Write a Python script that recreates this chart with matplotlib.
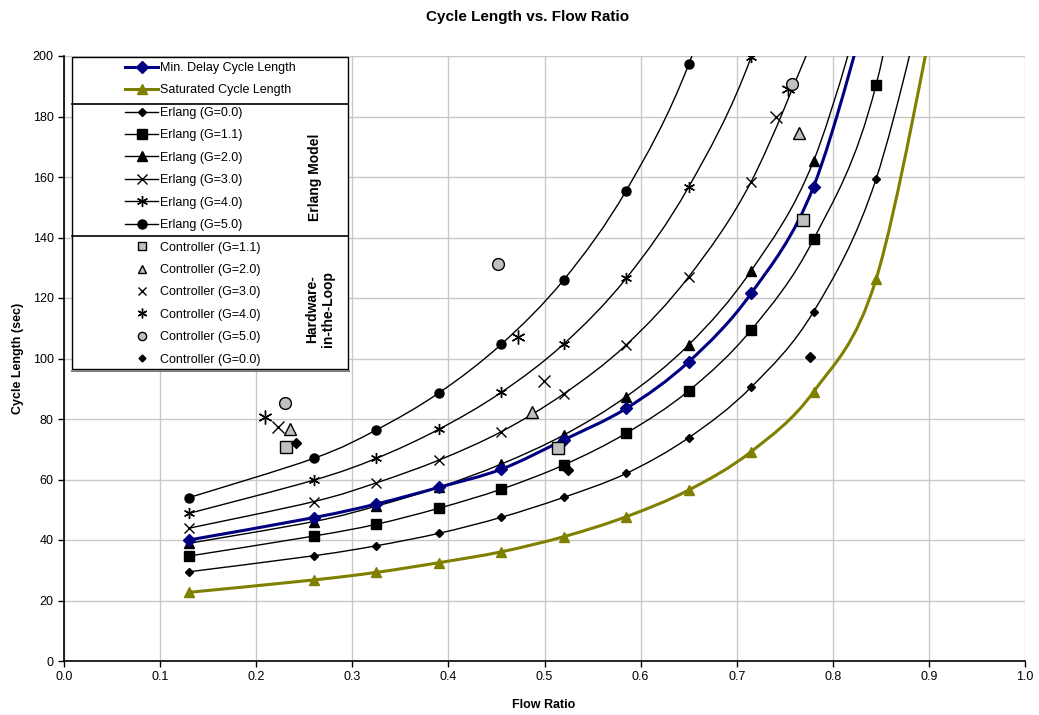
import matplotlib
matplotlib.use("Agg")
import matplotlib.pyplot as plt
import numpy as np
from matplotlib.path import Path
from matplotlib.patches import PathPatch, Rectangle
from matplotlib.lines import Line2D

plt.rcParams["font.family"] = ["Liberation Sans", "DejaVu Sans"]

# Flow ratios at which the curves were sampled
flow = [0.13, 0.26, 0.325, 0.39, 0.455, 0.52, 0.585, 0.65, 0.715, 0.78, 0.845, 0.91]

min_delay = [40.0, 47.4, 51.9, 57.4, 63.4, 73.1, 83.5, 98.9, 121.5, 156.8, 226.0]
saturated = [22.7, 26.8, 29.3, 32.5, 36.1, 41.1, 47.7, 56.5, 69.2, 89.0, 126.2, 222.0]
erlang_g0 = [29.5, 34.8, 38.1, 42.2, 47.5, 54.1, 62.0, 73.8, 90.5, 115.5, 159.3, 240.0]
erlang_g11 = [34.7, 41.3, 45.2, 50.5, 56.8, 64.8, 75.3, 89.3, 109.4, 139.4, 190.4, 300.0]
erlang_g2 = [38.9, 46.1, 51.2, 57.4, 65.1, 74.7, 87.4, 104.5, 129.0, 165.3, 232.0]
erlang_g3 = [43.9, 52.7, 58.9, 66.4, 75.8, 88.3, 104.5, 127.0, 158.4, 206.0]
erlang_g4 = [48.8, 59.8, 67.0, 76.6, 88.8, 104.8, 126.5, 156.7, 199.6, 268.0]
erlang_g5 = [54.0, 67.0, 76.4, 88.6, 104.7, 126.0, 155.5, 197.2, 262.0]

# Hardware-in-the-loop controller measurements
ctrl_g11_x = [0.231, 0.514, 0.769]
ctrl_g11_y = [70.8, 70.3, 145.8]
ctrl_g2_x = [0.235, 0.487, 0.765]
ctrl_g2_y = [76.6, 82.4, 174.5]
ctrl_g3_x = [0.223, 0.499, 0.741]
ctrl_g3_y = [77.2, 92.7, 180.0]
ctrl_g4_x = [0.209, 0.472, 0.753]
ctrl_g4_y = [80.5, 107.0, 189.0]
ctrl_g5_x = [0.230, 0.452, 0.758]
ctrl_g5_y = [85.2, 131.1, 190.6]
ctrl_g0_x = [0.241, 0.524, 0.776]
ctrl_g0_y = [72.0, 63.1, 100.4]

NAVY = "#000080"
OLIVE = "#808000"
GREY = "#c0c0c0"

W, H = 1039, 715
fig = plt.figure(figsize=(W / 100, H / 100), dpi=100)
ax = fig.add_axes([64 / W, 1 - 661 / H, (1025 - 64) / W, (661 - 56) / H])


def smooth_line(xs, ys, color, lw, z):
    # Excel style smoothed line: Bezier segments with Catmull-Rom control points
    pts = np.column_stack([xs, ys])
    n = len(pts)
    verts = [pts[0]]
    codes = [Path.MOVETO]
    for i in range(n - 1):
        p0 = pts[i - 1] if i > 0 else pts[i]
        p1 = pts[i]
        p2 = pts[i + 1]
        p3 = pts[i + 2] if i + 2 < n else pts[i + 1]
        verts += [p1 + (p2 - p0) / 6, p2 - (p3 - p1) / 6, p2]
        codes += [Path.CURVE4] * 3
    ax.add_patch(PathPatch(Path(verts, codes), fill=False, edgecolor=color,
                           lw=lw, zorder=z, capstyle="round"))


curves = [
    (min_delay, NAVY, 2.2, "D", 6.0, NAVY, NAVY, "Min. Delay Cycle Length", 5),
    (saturated, OLIVE, 2.2, "^", 6.5, OLIVE, OLIVE, "Saturated Cycle Length", 4),
    (erlang_g0, "black", 1.0, "D", 4.5, "black", "black", "Erlang (G=0.0)", 3),
    (erlang_g11, "black", 1.0, "s", 6.5, "black", "black", "Erlang (G=1.1)", 3),
    (erlang_g2, "black", 1.0, "^", 6.5, "black", "black", "Erlang (G=2.0)", 3),
    (erlang_g3, "black", 1.0, "x", 6.5, "black", "black", "Erlang (G=3.0)", 3),
    (erlang_g4, "black", 1.0, (6, 2, 0), 8.0, "black", "black", "Erlang (G=4.0)", 3),
    (erlang_g5, "black", 1.0, "o", 6.5, "black", "black", "Erlang (G=5.0)", 3),
]

handles = []
for ys, color, lw, mk, ms, mfc, mec, label, z in curves:
    xs = flow[:len(ys)]
    smooth_line(xs, ys, color, lw, z)
    ax.plot(xs, ys, linestyle="none", marker=mk, markersize=ms,
            markerfacecolor=mfc, markeredgecolor=mec, markeredgewidth=1.0,
            zorder=z + 0.5)
    handles.append(Line2D([], [], color=color, lw=lw, marker=mk, markersize=ms,
                          markerfacecolor=mfc, markeredgecolor=mec,
                          markeredgewidth=1.0, label=label))

controllers = [
    (ctrl_g11_x, ctrl_g11_y, "s", 8.0, GREY, "black", "Controller (G=1.1)"),
    (ctrl_g2_x, ctrl_g2_y, "^", 9.0, GREY, "black", "Controller (G=2.0)"),
    (ctrl_g3_x, ctrl_g3_y, "x", 8.5, "black", "black", "Controller (G=3.0)"),
    (ctrl_g4_x, ctrl_g4_y, (6, 2, 0), 10.0, "black", "black", "Controller (G=4.0)"),
    (ctrl_g5_x, ctrl_g5_y, "o", 8.5, GREY, "black", "Controller (G=5.0)"),
    (ctrl_g0_x, ctrl_g0_y, "D", 5.0, "black", "black", "Controller (G=0.0)"),
]
for xs, ys, mk, ms, mfc, mec, label in controllers:
    ax.plot(xs, ys, linestyle="none", marker=mk, markersize=ms,
            markerfacecolor=mfc, markeredgecolor=mec, markeredgewidth=1.0,
            zorder=6)
    handles.append(Line2D([], [], linestyle="none", marker=mk, markersize=ms * 0.7,
                          markerfacecolor=mfc, markeredgecolor=mec,
                          markeredgewidth=1.0, label=label))

ax.set_xlim(0, 1.0)
ax.set_ylim(0, 200)
ax.set_xticks(np.arange(0, 1.01, 0.1))
ax.set_xticklabels([f"{v:.1f}" for v in np.arange(0, 1.01, 0.1)])
ax.set_yticks(np.arange(0, 201, 20))
ax.tick_params(axis="both", labelsize=9, direction="out", length=4, width=1)
ax.grid(True, color="#c8c8c8", lw=1)
ax.set_axisbelow(True)
for side in ["top", "right"]:
    ax.spines[side].set_visible(False)
for side in ["left", "bottom"]:
    ax.spines[side].set_linewidth(1.2)
ax.axhline(200, color="#909090", lw=1.5, zorder=0.5)

fig.text(528 / W, 1 - 17 / H, "Cycle Length vs. Flow Ratio", ha="center",
         va="center", fontsize=11, fontweight="bold")
fig.text(544 / W, 1 - 705 / H, "Flow Ratio", ha="center", va="center",
         fontsize=9, fontweight="bold")
fig.text(18 / W, 1 - 358 / H, "Cycle Length (sec)", ha="center", va="center",
         fontsize=9, fontweight="bold", rotation=90)

# legend with grouped sections
leg = ax.legend(handles=handles, loc="upper left", frameon=False,
                bbox_to_anchor=((125 - 64) / 961, 1 - (62 - 56) / 605),
                borderaxespad=0, borderpad=0, fontsize=9,
                labelspacing=0.835, handlelength=2.65, handletextpad=0.15)
leg.set_zorder(20)

ft = fig.transFigure


def px_rect(x0, y0, x1, y1, **kw):
    r = Rectangle((x0 / W, 1 - y1 / H), (x1 - x0) / W, (y1 - y0) / H,
                  transform=ft, clip_on=False, **kw)
    ax.add_artist(r)


def px_hline(y, x0, x1, **kw):
    ln = Line2D([x0 / W, x1 / W], [1 - y / H, 1 - y / H], transform=ft,
                clip_on=False, **kw)
    ax.add_artist(ln)


px_rect(72, 56.5, 348, 369, facecolor="white", edgecolor="black", lw=1.0,
        zorder=15)
px_hline(103.5, 72, 348, color="black", lw=1.2, zorder=21)
px_hline(236, 72, 348, color="black", lw=1.2, zorder=21)
px_hline(371, 72, 349, color="#808080", lw=1.5, zorder=21)

ax.text(315 / W, 1 - 177 / H, "Erlang Model", rotation=90, ha="center",
        va="center", fontsize=10, fontweight="bold", zorder=22, transform=ft)
ax.text(320 / W, 1 - 309 / H, "Hardware-\nin-the-Loop", rotation=90,
        ha="center", va="center", fontsize=10, fontweight="bold",
        multialignment="center", linespacing=1.1, zorder=22, transform=ft)

fig.savefig("out.png", dpi=100)
